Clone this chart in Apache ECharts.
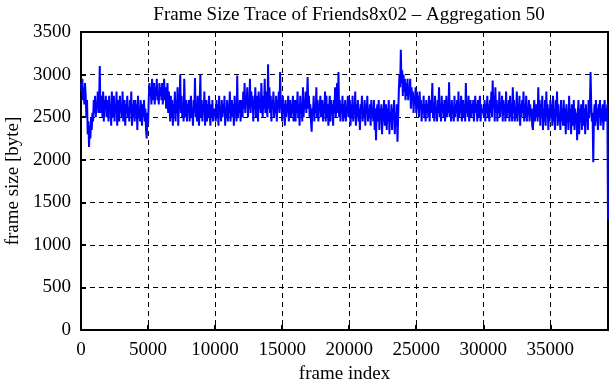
<!DOCTYPE html>
<html>
<head>
<meta charset="utf-8">
<script src="https://cdn.jsdelivr.net/npm/echarts@6/dist/echarts.min.js"></script>
<style>
  html, body { margin: 0; padding: 0; background: #fff; }
  #chart { width: 611px; height: 380px; }
</style>
</head>
<body>
<div id="chart"></div>
<script>
// frame size trace, one value every 50 frames (aggregation 50)
const frameStep = 50
const frameSizes = [
  2900, 2800, 2950, 2700, 2850, 2650, 2900, 2750, 2500, 2700, 2300, 2450, 2150, 2400, 2250, 2500, 2350, 2550, 2450, 2700,
  2550, 2750, 2500, 2650, 2600, 2800, 2550, 2700, 3100, 2550, 2650, 2750, 2500, 2800, 2450, 2700, 2600, 2750, 2500, 2650,
  2700, 2450, 2750, 2550, 2650, 2400, 2800, 2500, 2600, 2750, 2450, 2650, 2550, 2800, 2400, 2600, 2700, 2450, 2750, 2550,
  2650, 2500, 2800, 2450, 2600, 2700, 2400, 2650, 2550, 2750, 2500, 2600, 2450, 2700, 2550, 2800, 2400, 2650, 2500, 2700,
  2450, 2700, 2550, 2650, 2350, 2750, 2500, 2600, 2450, 2700, 2550, 2400, 2650, 2500, 2700, 2450, 2600, 2350, 2250, 2550,
  2400, 2700, 2900, 2750, 2850, 2650, 2950, 2700, 2800, 2900, 2650, 2850, 2750, 2950, 2700, 2800, 2650, 2900, 2750, 2850,
  2700, 2900, 2650, 2800, 2950, 2700, 2850, 2600, 2750, 2900, 2550, 2800, 2650, 2450, 2750, 2500, 2700, 2400, 2650, 2550,
  2800, 2450, 2700, 2550, 2850, 2400, 2650, 2700, 3000, 2550, 2750, 2500, 2650, 2450, 2950, 2600, 2500, 2700, 2450, 2650,
  2550, 2700, 2450, 2650, 2750, 2500, 2600, 2400, 2700, 2550, 2960, 2500, 2650, 2450, 2750, 2550, 2400, 2650, 3000, 2500,
  2700, 2450, 2650, 2550, 2800, 2400, 2600, 2700, 2450, 2650, 2500, 2750, 2550, 2400, 2650, 2500, 2700, 2450, 2600, 2550,
  2600, 2450, 2700, 2500, 2650, 2400, 2750, 2550, 2600, 2450, 2700, 2500, 2650, 2550, 2750, 2400, 2600, 2500, 2700, 2450,
  2650, 2550, 2800, 2450, 2600, 2700, 2500, 2650, 2400, 2750, 2550, 2600, 2450, 2990, 2500, 2650, 2550, 2700, 2450, 2600,
  2700, 2500, 2800, 2600, 2900, 2550, 2750, 2650, 2850, 2500, 2700, 2600, 2950, 2550, 2800, 2650, 2750, 2450, 2700, 2600,
  2850, 2500, 2650, 2750, 2450, 2800, 2600, 2700, 2550, 2900, 2650, 2500, 2750, 2600, 2950, 2550, 2800, 2650, 2500, 3120,
  2600, 2850, 2550, 2750, 2450, 2700, 2600, 2800, 2500, 2650, 2550, 2750, 2450, 2700, 2600, 2800, 2550, 3030, 2600, 2700,
  2450, 2750, 2550, 2650, 2400, 2700, 2500, 2650, 2550, 2750, 2450, 2600, 2700, 2500, 2650, 2550, 2750, 2450, 2600, 2700,
  2450, 2700, 2550, 2800, 2500, 2650, 2400, 2750, 2550, 2650, 2450, 2850, 2500, 2700, 2600, 2800, 2550, 2700, 2970, 2600,
  2750, 2500, 2650, 2450, 2330, 2600, 2550, 2750, 2450, 2650, 2550, 2850, 2500, 2700, 2450, 2650, 2600, 2750, 2500, 2650,
  2700, 2450, 2650, 2550, 2800, 2450, 2750, 2500, 2650, 2400, 2600, 2750, 2450, 2700, 2550, 2650, 2400, 2700, 2550, 2850,
  2500, 2650, 2900, 2550, 3030, 2500, 2700, 2450, 2650, 2550, 2750, 2450, 2650, 2500, 2700, 2450, 2600, 2550, 2750, 2500,
  2550, 2700, 2400, 2650, 2500, 2750, 2450, 2600, 2550, 2800, 2400, 2650, 2500, 2700, 2450, 2600, 2350, 2650, 2550, 2750,
  2450, 2600, 2500, 2700, 2400, 2650, 2550, 2750, 2450, 2600, 2500, 2650, 2400, 2700, 2550, 2600, 2450, 2700, 2350, 2600,
  2230, 2550, 2650, 2450, 2700, 2350, 2600, 2500, 2650, 2300, 2600, 2450, 2700, 2400, 2550, 2650, 2350, 2600, 2450, 2700,
  2300, 2550, 2450, 2650, 2350, 2600, 2500, 2700, 2300, 2550, 2400, 2650, 2210, 2500, 2800, 3000, 2850, 3290, 2900, 3050,
  2750, 3000, 2800, 2950, 2700, 2900, 2750, 2950, 2700, 2850, 2800, 2950, 2600, 2850, 2700, 2800, 2550, 2750, 2650, 2850,
  2550, 2800, 2600, 2750, 2500, 2800, 2600, 2700, 2450, 2650, 2550, 2750, 2500, 2650, 2450, 2700, 2550, 2650, 2500, 2750,
  2450, 2700, 2550, 2650, 2900, 2500, 2650, 2450, 2750, 2550, 2600, 2450, 2700, 2550, 2850, 2500, 2650, 2450, 2750, 2550,
  2650, 2500, 2700, 2450, 2600, 2750, 2500, 2650, 2550, 2910, 2500, 2650, 2450, 2700, 2550, 2600, 2450, 2750, 2500, 2650,
  2550, 2700, 2450, 2800, 2500, 2650, 2550, 2750, 2450, 2600, 2700, 2500, 2650, 2450, 2900, 2550, 2650, 2500, 2750, 2450,
  2600, 2700, 2500, 2650, 2550, 2700, 2450, 2600, 2750, 2550, 2650, 2450, 2700, 2500, 2600, 2750, 2450, 2650, 2550, 2600,
  2600, 2500, 2700, 2450, 2650, 2550, 2750, 2500, 2650, 2450, 2700, 2550, 2800, 2500, 2930, 2600, 2750, 2450, 2850, 2550,
  2700, 2450, 2650, 2550, 2800, 2500, 2650, 2600, 2750, 2450, 2700, 2550, 2650, 2450, 2800, 2500, 2650, 2550, 2700, 2450,
  2750, 2500, 2650, 2450, 2850, 2550, 2700, 2450, 2600, 2500, 2800, 2450, 2650, 2550, 2750, 2400, 2650, 2500, 2700, 2550,
  2800, 2450, 2650, 2500, 2750, 2450, 2600, 2550, 2700, 2450, 2650, 2500, 2600, 2400, 2350, 2550, 2700, 2450, 2650, 2500,
  2650, 2450, 2850, 2500, 2700, 2400, 2650, 2550, 2750, 2350, 2600, 2450, 2700, 2400, 2800, 2500, 2650, 2350, 2600, 2450,
  2700, 2500, 2650, 2400, 2750, 2450, 2600, 2350, 2700, 2500, 2800, 2400, 2650, 2450, 2550, 2350, 2700, 2450, 2600, 2400,
  2700, 2400, 2600, 2300, 2650, 2450, 2550, 2350, 2750, 2450, 2600, 2300, 2650, 2500, 2400, 2700, 2350, 2600, 2450, 2550,
  2230, 2550, 2700, 2300, 2600, 2450, 2650, 2350, 2550, 2700, 2400, 2600, 2300, 2650, 2450, 2550, 2350, 2700, 2500, 2650,
  3030, 2650, 2450, 2550, 1970, 2500, 2650, 2400, 2700, 2450, 2600, 2350, 2650, 2500, 2700, 2400, 2600, 2450, 2650, 2350,
  2550, 2700, 2450, 2600, 2500, 2650, 1300
]
const xTicks = [0, 5000, 10000, 15000, 20000, 25000, 30000, 35000]
const yTicks = [0, 500, 1000, 1500, 2000, 2500, 3000, 3500]

const font = 'Liberation Serif'
const data = frameSizes.map((v, i) => [i * frameStep, v])

const chart = echarts.init(document.getElementById('chart'))
chart.setOption({
  animation: false,
  title: {
    text: 'Frame Size Trace of Friends8x02 \u2013 Aggregation 50',
    left: 344,
    textAlign: 'center',
    top: 1,
    textStyle: { fontFamily: font, fontSize: 19, fontWeight: 'normal', color: '#000' }
  },
  grid: {
    left: 81,
    right: 3,
    top: 32,
    bottom: 50,
    outerBoundsMode: 'none',
    containLabel: false,
    show: true,
    borderColor: '#000',
    borderWidth: 2
  },
  xAxis: {
    type: 'value',
    min: 0,
    max: data[data.length - 1][0],
    interval: 5000,
    name: 'frame index',
    nameLocation: 'middle',
    nameGap: 34,
    nameTextStyle: { fontFamily: font, fontSize: 19, color: '#000' },
    axisLine: { lineStyle: { color: '#000', width: 2 } },
    axisTick: { inside: true, length: 5, lineStyle: { color: '#000', width: 2 } },
    axisLabel: {
      margin: 11,
      fontFamily: font,
      fontSize: 19,
      color: '#000',
      formatter: v => (xTicks.includes(v) ? String(v) : '')
    },
    splitLine: { lineStyle: { color: '#000', width: 1, type: [5, 4] } }
  },
  yAxis: {
    type: 'value',
    min: 0,
    max: 3500,
    interval: 500,
    name: 'frame size [byte]',
    nameLocation: 'middle',
    nameGap: 58,
    nameTextStyle: { fontFamily: font, fontSize: 19, color: '#000' },
    axisLine: { lineStyle: { color: '#000', width: 2 } },
    axisTick: { inside: true, length: 5, lineStyle: { color: '#000', width: 2 } },
    axisLabel: {
      margin: 10,
      fontFamily: font,
      fontSize: 19,
      color: '#000',
      formatter: v => (yTicks.includes(v) ? String(v) : '')
    },
    splitLine: { lineStyle: { color: '#000', width: 1, type: [5, 4] } }
  },
  series: [{
    type: 'line',
    data,
    showSymbol: false,
    lineStyle: { color: '#0000ff', width: 2 },
    z: 3
  }]
})
</script>
</body>
</html>
